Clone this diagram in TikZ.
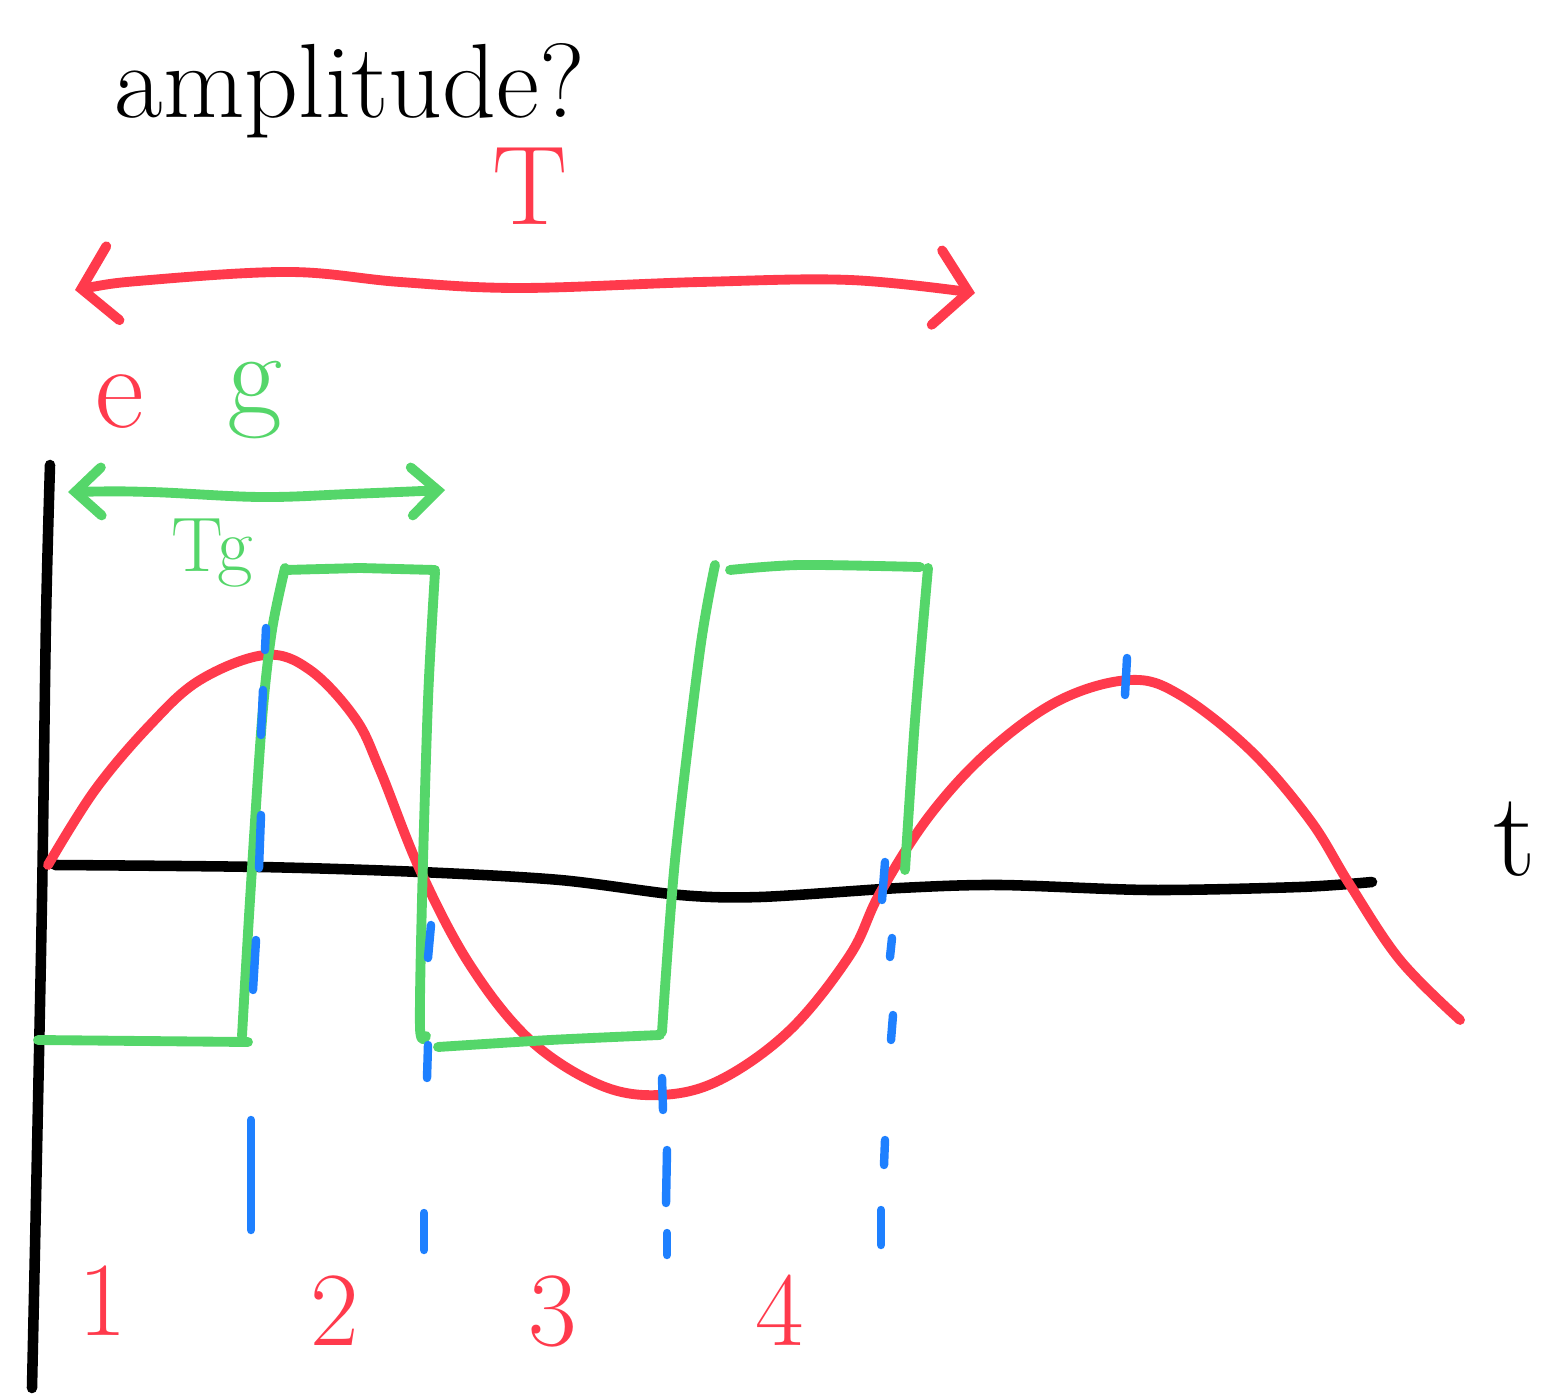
\documentclass[tikz,border=0pt]{standalone}
\usetikzlibrary{arrows.meta}
\definecolor{pred}{HTML}{FF3A4C}
\definecolor{pgreen}{HTML}{55D66A}
\definecolor{pblue}{HTML}{1E80FF}
\begin{document}
\begin{tikzpicture}[x=0.01cm,y=-0.01cm,
  ink/.style={line width=2.8pt,line cap=round,line join=round},
  redink/.style={ink,draw=pred},
  greenink/.style={ink,draw=pgreen},
  blackink/.style={ink,draw=black,line width=3pt},
  blueink/.style={draw=pblue,line width=2.4pt,line cap=round},
  barbs/.style={{Straight Barb[length=3.2mm,width=7.5mm,line cap=round]}-{Straight Barb[length=3.2mm,width=7.5mm,line cap=round]}},
  gbarbs/.style={{Straight Barb[length=2.6mm,width=4.8mm,line cap=round]}-{Straight Barb[length=2.6mm,width=4.8mm,line cap=round]}},
  lbl/.style={inner sep=0pt,anchor=base}]
\useasboundingbox (0,0) rectangle (1546,1395);

% title
\node[lbl,font=\fontsize{30}{36}\selectfont] (title) at (350,118) {amplitude?};

% period T arrow
\coordinate (TL) at (75,290);
\coordinate (TR) at (975,293);
\draw[redink,barbs] plot[smooth,tension=0.6] coordinates {(TL) (150,280) (290,272) (400,282) (520,288) (700,282) (850,280) (TR)};
\node[lbl,text=pred,font=\fontsize{32}{38}\selectfont] (Tlab) at (530,225) {T};

% e and g
\node[lbl,text=pred,font=\fontsize{34}{40}\selectfont] (elab) at (120,428) {e};
\node[lbl,text=pgreen,font=\fontsize{34}{40}\selectfont] (glab) at (255,415) {g};

% Tg arrow
\coordinate (GL) at (68,492);
\coordinate (GR) at (445,490);
\draw[greenink,gbarbs] plot[smooth,tension=0.6] coordinates {(GL) (150,492) (260,497) (350,494) (GR)};
\node[lbl,text=pgreen,font=\fontsize{22}{26}\selectfont] (Tglab) at (212,572) {Tg};

% axes
\coordinate (Ytop) at (50,465);
\coordinate (Ybot) at (32,1388);
\draw[blackink] plot[smooth,tension=0.5] coordinates {(Ytop) (46,620) (42,900) (36,1200) (Ybot)};
\coordinate (Xl) at (55,865);
\coordinate (Xr) at (1372,882);
\draw[blackink] plot[smooth,tension=0.5] coordinates {(Xl) (260,867) (420,872) (560,880) (680,895) (760,897) (900,888) (1000,885) (1150,890) (1300,887) (Xr)};
\node[lbl,font=\fontsize{34}{40}\selectfont] (tlab) at (1515,875) {t};

% red sine
\draw[redink] plot[smooth,tension=0.6] coordinates {(48,865) (95,790) (150,725) (200,680) (265,655) (310,670) (355,718) (380,770) (420,870) (470,965) (530,1040) (600,1085) (660,1095) (720,1080) (790,1030) (850,955) (880,893) (930,815) (990,750) (1060,700) (1130,680) (1180,695) (1250,750) (1310,820) (1350,885) (1400,960) (1460,1020)};

% green square wave
\draw[greenink] (38,1040) -- (248,1042);
\draw[greenink] plot[smooth,tension=0.5] coordinates {(242,1036) (250,900) (262,720) (272,630) (285,568)};
\draw[greenink] (285,570) -- (360,568) -- (435,570);
\draw[greenink] plot[smooth,tension=0.5] coordinates {(435,572) (428,700) (422,900) (420,1028) (426,1036)};
\draw[greenink] plot[smooth,tension=0.5] coordinates {(438,1047) (550,1040) (660,1035)};
\draw[greenink] plot[smooth,tension=0.5] coordinates {(662,1032) (675,860) (700,650) (715,565)};
\draw[greenink] plot[smooth,tension=0.5] coordinates {(730,570) (800,565) (920,567)};
\draw[greenink] plot[smooth,tension=0.5] coordinates {(928,568) (915,720) (905,870)};

% blue dashed markers
\draw[blueink] (266,628) -- (265,650);
\draw[blueink] (263,690) -- (261,735);
\draw[blueink] (261,815) -- (259,868);
\draw[blueink] (256,940) -- (253,990);
\draw[blueink] (251,1120) -- (251,1230);

\draw[blueink] (431,925) -- (428,958);
\draw[blueink] (428,1045) -- (427,1078);
\draw[blueink] (424,1213) -- (424,1250);

\draw[blueink] (662,1078) -- (663,1110);
\draw[blueink] (667,1150) -- (666,1203);
\draw[blueink] (667,1233) -- (667,1255);

\draw[blueink] (885,862) -- (882,900);
\draw[blueink] (892,938) -- (890,957);
\draw[blueink] (893,1015) -- (891,1040);
\draw[blueink] (885,1140) -- (884,1165);
\draw[blueink] (881,1210) -- (881,1245);

\draw[blueink] (1127,658) -- (1125,695);

% region numbers
\node[lbl,text=pred,font=\fontsize{30}{36}\selectfont] (n1) at (103,1335) {1};
\node[lbl,text=pred,font=\fontsize{30}{36}\selectfont] (n2) at (335,1345) {2};
\node[lbl,text=pred,font=\fontsize{30}{36}\selectfont] (n3) at (553,1345) {3};
\node[lbl,text=pred,font=\fontsize{30}{36}\selectfont] (n4) at (780,1345) {4};
\end{tikzpicture}
\end{document}
